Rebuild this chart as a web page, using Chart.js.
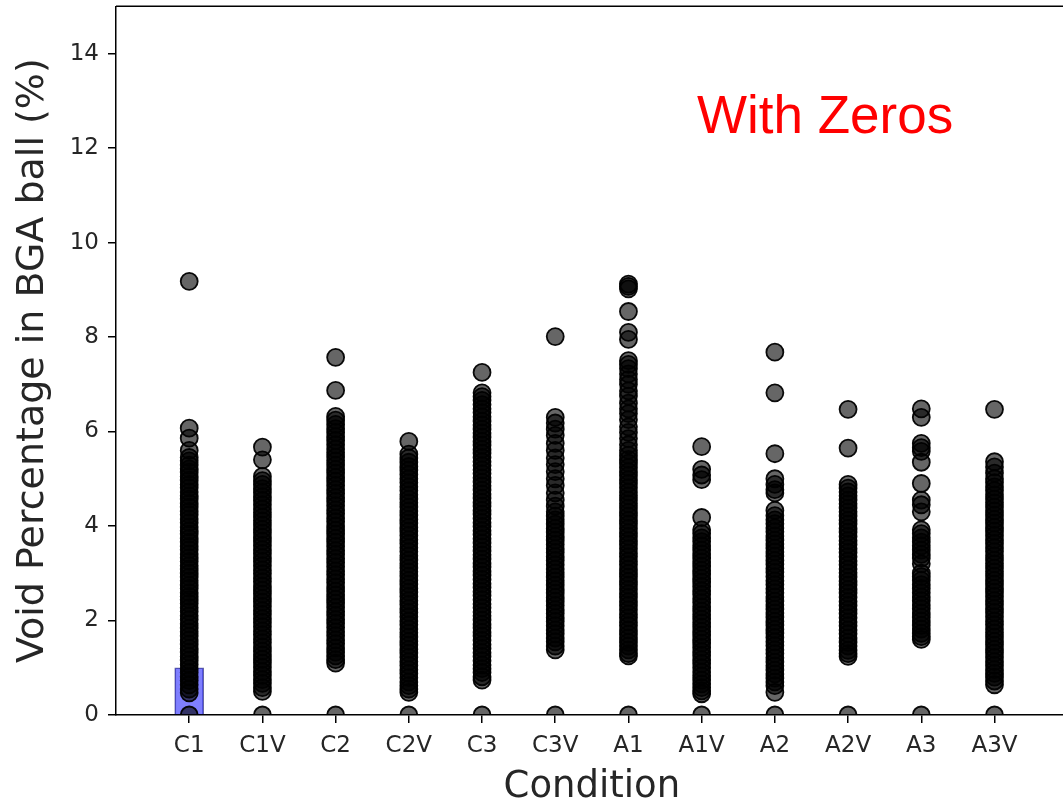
<!DOCTYPE html>
<html>
<head>
<meta charset="utf-8">
<script src="https://cdn.jsdelivr.net/npm/chart.js@4.4.1/dist/chart.umd.min.js"></script>
<style>
  html, body { margin: 0; padding: 0; background: #fff; overflow: hidden; }
  #wrap { width: 1078px; height: 809px; margin-top: -4px; }
</style>
</head>
<body>
<div id="wrap"><canvas id="chart" width="1078" height="809"></canvas></div>
<script>
const categories = ['C1', 'C1V', 'C2', 'C2V', 'C3', 'C3V', 'A1', 'A1V', 'A2', 'A2V', 'A3', 'A3V'];

// void % per BGA ball (0 = ball with no void)
const c1 = [0, 9.18, 6.07, 5.86, 5.6, 5.45, 5.38, 5.29, 5.21, 5.14, 5.05, 4.97, 4.88, 4.81, 4.72, 4.64, 4.57, 4.48, 4.4, 4.31, 4.24, 4.15, 4.07, 3.98, 3.9, 3.83, 3.74, 3.66, 3.57, 3.5, 3.41, 3.33, 3.25, 3.16, 3.09, 3.0, 2.92, 2.84, 2.75, 2.68, 2.59, 2.51, 2.44, 2.36, 2.27, 2.19, 2.1, 2.02, 1.93, 1.84, 1.76, 1.67, 1.59, 1.5, 1.41, 1.33, 1.24, 1.16, 1.07, 0.98, 0.9, 0.81, 0.73, 0.64, 0.55, 0.47];
const c1v = [0, 5.67, 5.4, 5.05, 4.96, 4.88, 4.79, 4.71, 4.62, 4.54, 4.45, 4.36, 4.28, 4.19, 4.11, 4.02, 3.93, 3.85, 3.76, 3.68, 3.59, 3.5, 3.42, 3.33, 3.25, 3.16, 3.07, 2.99, 2.9, 2.82, 2.73, 2.64, 2.56, 2.47, 2.39, 2.3, 2.21, 2.13, 2.04, 1.96, 1.87, 1.78, 1.7, 1.61, 1.53, 1.44, 1.35, 1.27, 1.18, 1.1, 1.01, 0.92, 0.84, 0.75, 0.67, 0.58, 0.5];
const c2 = [0, 7.57, 6.87, 6.32, 6.24, 6.15, 6.06, 5.98, 5.89, 5.81, 5.72, 5.63, 5.55, 5.46, 5.38, 5.29, 5.2, 5.12, 5.03, 4.95, 4.86, 4.77, 4.69, 4.6, 4.52, 4.43, 4.34, 4.26, 4.17, 4.09, 4.0, 3.91, 3.83, 3.74, 3.66, 3.57, 3.48, 3.4, 3.31, 3.23, 3.14, 3.05, 2.97, 2.88, 2.8, 2.71, 2.62, 2.54, 2.45, 2.37, 2.28, 2.19, 2.11, 2.02, 1.94, 1.85, 1.76, 1.68, 1.59, 1.51, 1.42, 1.33, 1.25, 1.17, 1.1];
const c2v = [0, 5.79, 5.52, 5.44, 5.35, 5.26, 5.18, 5.09, 5.0, 4.92, 4.83, 4.75, 4.66, 4.57, 4.49, 4.4, 4.32, 4.23, 4.14, 4.06, 3.97, 3.89, 3.8, 3.71, 3.63, 3.54, 3.46, 3.37, 3.28, 3.2, 3.11, 3.03, 2.94, 2.85, 2.77, 2.68, 2.6, 2.51, 2.42, 2.34, 2.25, 2.17, 2.08, 1.99, 1.91, 1.82, 1.74, 1.65, 1.56, 1.48, 1.39, 1.31, 1.22, 1.13, 1.05, 0.96, 0.88, 0.79, 0.7, 0.62, 0.55, 0.48];
const c3 = [0, 7.25, 6.82, 6.74, 6.66, 6.57, 6.48, 6.4, 6.31, 6.22, 6.14, 6.05, 5.97, 5.88, 5.79, 5.71, 5.62, 5.54, 5.45, 5.36, 5.28, 5.19, 5.11, 5.02, 4.93, 4.85, 4.76, 4.68, 4.59, 4.5, 4.42, 4.33, 4.25, 4.16, 4.07, 3.99, 3.9, 3.82, 3.73, 3.64, 3.56, 3.47, 3.39, 3.3, 3.21, 3.13, 3.04, 2.96, 2.87, 2.78, 2.7, 2.61, 2.53, 2.44, 2.35, 2.27, 2.18, 2.1, 2.01, 1.92, 1.84, 1.75, 1.67, 1.58, 1.49, 1.41, 1.32, 1.24, 1.15, 1.06, 0.98, 0.9, 0.81, 0.74];
const c3v = [0, 8.01, 6.3, 6.18, 6.05, 5.92, 5.75, 5.6, 5.44, 5.3, 5.15, 5.0, 4.86, 4.7, 4.55, 4.42, 4.3, 4.21, 4.13, 4.04, 3.95, 3.87, 3.78, 3.7, 3.61, 3.52, 3.44, 3.35, 3.27, 3.18, 3.09, 3.01, 2.92, 2.84, 2.75, 2.66, 2.58, 2.49, 2.41, 2.32, 2.23, 2.15, 2.06, 1.98, 1.89, 1.8, 1.72, 1.63, 1.55, 1.46, 1.38];
const a1 = [0, 9.12, 9.07, 9.02, 8.54, 8.1, 7.95, 7.5, 7.42, 7.33, 7.22, 7.1, 7.0, 6.86, 6.75, 6.6, 6.48, 6.38, 6.25, 6.1, 5.98, 5.85, 5.72, 5.6, 5.5, 5.41, 5.33, 5.24, 5.15, 5.07, 4.98, 4.9, 4.81, 4.72, 4.64, 4.55, 4.47, 4.38, 4.29, 4.21, 4.12, 4.04, 3.95, 3.86, 3.78, 3.69, 3.61, 3.52, 3.43, 3.35, 3.26, 3.18, 3.09, 3.0, 2.92, 2.83, 2.75, 2.66, 2.57, 2.49, 2.4, 2.32, 2.23, 2.14, 2.06, 1.97, 1.89, 1.8, 1.71, 1.63, 1.54, 1.46, 1.38, 1.3, 1.25];
const a1v = [0, 5.68, 5.2, 5.08, 4.98, 4.18, 3.92, 3.84, 3.75, 3.67, 3.58, 3.49, 3.41, 3.32, 3.24, 3.15, 3.06, 2.98, 2.89, 2.81, 2.72, 2.63, 2.55, 2.46, 2.38, 2.29, 2.2, 2.12, 2.03, 1.95, 1.86, 1.77, 1.69, 1.6, 1.52, 1.43, 1.34, 1.26, 1.17, 1.09, 1.0, 0.91, 0.83, 0.74, 0.66, 0.58, 0.51, 0.45];
const a2 = [0, 7.68, 6.82, 5.53, 5.0, 4.88, 4.77, 4.7, 4.33, 4.22, 4.13, 4.05, 3.96, 3.88, 3.79, 3.7, 3.62, 3.53, 3.45, 3.36, 3.27, 3.19, 3.1, 3.02, 2.93, 2.84, 2.76, 2.67, 2.59, 2.5, 2.41, 2.33, 2.24, 2.16, 2.07, 1.98, 1.9, 1.81, 1.73, 1.64, 1.55, 1.47, 1.38, 1.3, 1.21, 1.12, 1.04, 0.95, 0.87, 0.78, 0.7, 0.62, 0.48];
const a2v = [0, 6.47, 5.65, 4.88, 4.8, 4.72, 4.64, 4.55, 4.47, 4.38, 4.3, 4.21, 4.12, 4.04, 3.95, 3.87, 3.78, 3.69, 3.61, 3.52, 3.44, 3.35, 3.26, 3.18, 3.09, 3.01, 2.92, 2.83, 2.75, 2.66, 2.58, 2.49, 2.4, 2.32, 2.23, 2.15, 2.06, 1.97, 1.89, 1.8, 1.72, 1.63, 1.54, 1.46, 1.37, 1.3, 1.24];
const a3 = [0, 6.48, 6.3, 5.75, 5.66, 5.58, 5.35, 4.9, 4.55, 4.45, 4.3, 3.92, 3.84, 3.75, 3.66, 3.58, 3.49, 3.4, 3.32, 3.2, 3.0, 2.93, 2.85, 2.76, 2.68, 2.59, 2.5, 2.42, 2.33, 2.25, 2.16, 2.07, 1.99, 1.9, 1.82, 1.73, 1.66, 1.6];
const a3v = [0, 6.47, 5.36, 5.25, 5.12, 5.0, 4.92, 4.83, 4.75, 4.66, 4.57, 4.49, 4.4, 4.32, 4.23, 4.14, 4.06, 3.97, 3.89, 3.8, 3.71, 3.63, 3.54, 3.46, 3.37, 3.28, 3.2, 3.11, 3.03, 2.94, 2.85, 2.77, 2.68, 2.6, 2.51, 2.42, 2.34, 2.25, 2.17, 2.08, 1.99, 1.91, 1.82, 1.74, 1.65, 1.56, 1.48, 1.39, 1.31, 1.22, 1.13, 1.05, 0.96, 0.88, 0.8, 0.72, 0.64];

const seriesByCategory = [c1, c1v, c2, c2v, c3, c3v, a1, a1v, a2, a2v, a3, a3v];

// the blue bar sitting at C1
const barCategory = 0;
const barValue = 1.0;

const yTicks = [0, 2, 4, 6, 8, 10, 12, 14];

const points = [];
seriesByCategory.forEach((vals, i) => {
    vals.forEach(v => points.push({ x: i, y: v }));
});

const FONT = "'DejaVu Sans', sans-serif";

const extras = {
    id: 'extras',
    afterDraw(chart) {
        const { ctx, chartArea } = chart;
        ctx.save();
        // top spine
        ctx.strokeStyle = '#000';
        ctx.lineWidth = 1.5;
        ctx.beginPath();
        ctx.moveTo(chartArea.left, chartArea.top);
        ctx.lineTo(chartArea.right, chartArea.top);
        ctx.stroke();
        // annotation (canvas is shifted up 4px)
        ctx.fillStyle = '#ff0000';
        ctx.font = "53px 'Liberation Sans', Arial, sans-serif";
        ctx.textBaseline = 'alphabetic';
        ctx.fillText('With Zeros', 697, 137);
        ctx.restore();
    }
};

new Chart(document.getElementById('chart'), {
    type: 'scatter',
    data: {
        datasets: [
            {
                type: 'scatter',
                data: points,
                pointRadius: 8.5,
                pointBorderWidth: 1.8,
                backgroundColor: 'rgba(0,0,0,0.6)',
                borderColor: 'rgba(0,0,0,0.95)',
                clip: 0,
                order: 1,
            },
            {
                type: 'bar',
                data: [{ x: barCategory, y: barValue }],
                backgroundColor: 'rgba(0,0,255,0.5)',
                borderColor: 'rgba(40,40,120,0.7)',
                borderWidth: 1,
                barThickness: 29,
                clip: 0,
                order: 2,
            },
        ],
    },
    options: {
        responsive: false,
        animation: false,
        layout: { padding: { top: 2, right: 0, left: 0, bottom: 0 } },
        plugins: {
            legend: { display: false },
            tooltip: { enabled: false },
        },
        scales: {
            x: {
                type: 'linear',
                min: -1,
                max: 12,
                offset: false,
                afterBuildTicks: s => { s.ticks = categories.map((c, i) => ({ value: i })); },
                afterFit: s => { s.height = 90; s.paddingLeft = 0; s.paddingRight = 0; },
                border: { display: true, color: '#000', width: 1.5 },
                grid: { offset: false, drawOnChartArea: false, drawTicks: true, tickLength: 8, color: '#000', lineWidth: 1.5 },
                ticks: {
                    autoSkip: false,
                    maxRotation: 0,
                    padding: 9,
                    color: '#262626',
                    font: { family: FONT, size: 23 },
                    callback: v => categories[v] ?? '',
                },
                title: {
                    display: true,
                    text: 'Condition',
                    color: '#262626',
                    font: { family: FONT, size: 37 },
                    padding: { top: 0, bottom: -5 },
                },
            },
            y: {
                min: 0,
                max: 15,
                afterBuildTicks: s => { s.ticks = yTicks.map(v => ({ value: v })); },
                afterFit: s => { s.width = 116; s.paddingTop = 0; s.paddingBottom = 0; },
                border: { display: true, color: '#000', width: 1.5 },
                grid: { drawOnChartArea: false, drawTicks: true, tickLength: 8, color: '#000', lineWidth: 1.5 },
                ticks: {
                    padding: 9,
                    color: '#262626',
                    font: { family: FONT, size: 23 },
                },
                title: {
                    display: true,
                    text: 'Void Percentage in BGA ball (%)',
                    color: '#262626',
                    font: { family: FONT, size: 38 },
                    padding: { top: 10, bottom: 0 },
                },
            },
        },
    },
    plugins: [extras],
});
</script>
</body>
</html>
